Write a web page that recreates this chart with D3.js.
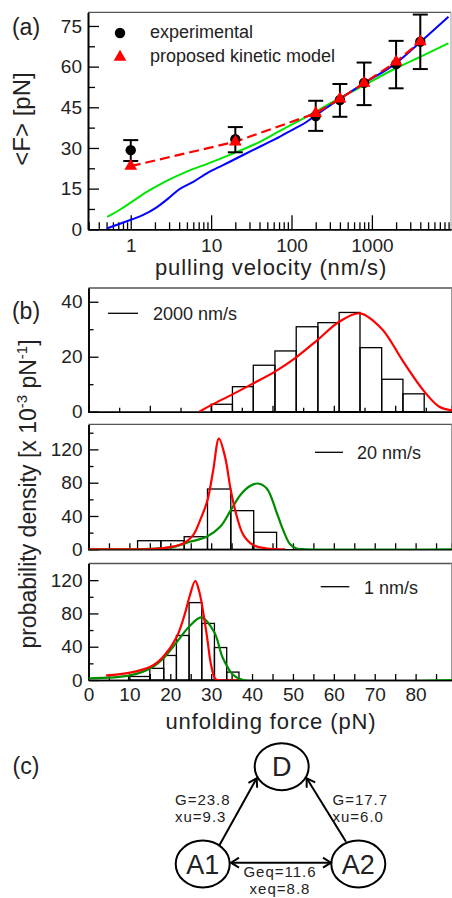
<!DOCTYPE html>
<html><head><meta charset="utf-8">
<script src="https://cdn.jsdelivr.net/npm/d3@7"></script>
<style>
html,body{margin:0;padding:0;background:#fff;}
svg{display:block;}
text{font-family:"Liberation Sans",Arial,Helvetica,sans-serif;fill:#222;}
</style></head><body>
<svg id="chart" width="452" height="898"></svg>
<script>
// ---------- Panel (a) data ----------
const velocities = [1, 20, 200, 400, 800, 2000, 4000];
const expForce   = [29.2, 33.2, 41.8, 47.7, 54.0, 60.9, 69.2];
const expErrLow  = [25.2, 28.4, 36.3, 41.5, 45.8, 52.0, 59.1];
const expErrHigh = [32.9, 37.7, 47.4, 53.6, 61.5, 69.5, 79.2];
const modelForce = [23.3, 32.3, 42.8, 48.1, 53.9, 61.8, 69.2];
const blueV = [0.51, 1.04, 1.43, 2.1, 2.94, 3.9, 6.0, 9.25, 12.9, 20.8, 33.5, 49, 71.9, 101, 150, 201, 391, 805, 1980, 4050, 8970];
const blueF = [0.37, 3.7, 5.3, 8.1, 11.4, 14.5, 17.5, 21.0, 23.1, 26.2, 29.3, 31.7, 34.2, 36.6, 39.4, 42.1, 47.9, 53.9, 61.2, 69.2, 78.4];
const greenV = [0.51, 0.74, 1.04, 1.58, 2.8, 4.97, 9.25, 18.9, 36.9, 68.6, 201, 391, 805, 1980, 4050, 8970];
const greenF = [4.6, 7.3, 10.2, 13.8, 17.9, 21.3, 24.3, 28.0, 31.7, 36.0, 43.4, 48.3, 53.2, 59.4, 63.7, 68.6];
const aYTicks = [0, 15, 30, 45, 60, 75];
const aXTicks = [1, 10, 100, 1000];

// ---------- Panel (b) data ----------
const edges2000 = [30, 35.2, 40.3, 45.6, 50.8, 56.1, 61.3, 66.4, 71.7, 76.9, 82.1];
const hist2000  = [2.7, 9.1, 16.9, 22.1, 30.9, 32.4, 36.1, 23.3, 11.8, 6.5];
const red2000F = [27.1, 30, 35.2, 40.3, 45.6, 50.8, 56.1, 61.3, 66.4, 71.7, 76.9, 82.1, 85.8, 88.9];
const red2000P = [0, 2.4, 6.3, 10.3, 14.6, 19.8, 26.2, 32.7, 35.8, 30.2, 18.4, 7.4, 1.8, 0.5];

const edges20 = [12.0, 17.7, 23.4, 29.1, 34.8, 40.4, 46.0];
const hist20  = [10.3, 10.3, 15.1, 72.4, 46.4, 20.4];
const red20F = [0, 15, 19.1, 23.2, 25.6, 27.3, 29.1, 30.5, 31.9, 33.4, 34.8, 36.3, 37.9, 40.3, 43.6, 48.1];
const red20P = [0, 0.3, 2, 7, 17, 35, 59, 95, 133, 111, 71, 39, 17, 5, 1, 0];
const green20F = [0, 15, 20.8, 24.8, 28.9, 32.2, 34.8, 37.1, 39.5, 41.4, 43.6, 46.1, 47.7, 49.3, 50.9, 53.3, 88.9];
const green20P = [0, 0.5, 3, 9, 15, 27, 47, 65, 76, 79, 73, 43, 22, 6, 1, 0, 0];

const edges1 = [9.8, 15.0, 18.4, 21.5, 24.6, 27.7, 30.8, 33.8, 36.8];
const hist1  = [4.2, 14, 29.5, 53.5, 93, 68, 39, 9.5];
const red1F = [4.3, 10.2, 15.5, 18.5, 21.6, 23.6, 24.7, 26.1, 27.1, 28.1, 29.1, 29.9, 30.9, 31.5, 36.4];
const red1P = [5.5, 8.8, 16.8, 29.2, 52, 80, 100, 119, 106, 80, 48, 20, 2, 0, 0];
const green1F = [0, 10.2, 15.5, 18.5, 21.6, 24.7, 27.6, 30.8, 32.8, 35.4, 37.8, 88.9];
const green1P = [2, 5.5, 15, 27, 45.6, 64.5, 75.2, 57, 27, 6, 0, 0];

const bXTickLabels = [0, 10, 20, 30, 40, 50, 60, 70, 80];
const legendLabels = ["2000 nm/s", "20 nm/s", "1 nm/s"];

// ---------- Panel (c) labels ----------
const nodeLabels = ["D", "A1", "A2"];
const edgeLabelsA1D = ["G=23.8", "xu=9.3"];
const edgeLabelsA2D = ["G=17.7", "xu=6.0"];
const edgeLabelsEq  = ["Geq=11.6", "xeq=8.8"];

const svg = d3.select("#chart");
const FRAME = "#555";

// ================= Panel (a) =================
const xA = d3.scaleLog().domain([0.294, 9640]).range([88, 451]);
const yA = d3.scaleLinear().domain([0, 80]).range([229.3, 12.4]);
const gA = svg.append("g");

gA.append("line").attr("x1", 88).attr("x2", 451).attr("y1", 12.4).attr("y2", 12.4).attr("stroke", FRAME).attr("stroke-width", 1.3);
gA.append("line").attr("x1", 451).attr("x2", 451).attr("y1", 12.4).attr("y2", 229.3).attr("stroke", "#999").attr("stroke-width", 1);

const minorA = [];
[0.1, 1, 10, 100, 1000].forEach(d => { for (let k = 2; k <= 9; k++) { const v = d * k; if (v > 0.294 && v < 9640) minorA.push(v); } });

gA.append("g").attr("transform", "translate(0,229.3)")
  .call(d3.axisBottom(xA).tickValues(aXTicks).tickSize(-14).tickSizeOuter(0).tickPadding(9).tickFormat(d3.format("d")));
gA.append("g").attr("transform", "translate(0,229.3)")
  .call(d3.axisBottom(xA).tickValues(minorA).tickSize(-7).tickSizeOuter(0).tickFormat(""));
gA.append("g").attr("transform", "translate(88,0)")
  .call(d3.axisLeft(yA).tickValues(aYTicks).tickSize(-11).tickSizeOuter(0).tickPadding(6));
gA.append("g").attr("transform", "translate(88,0)")
  .call(d3.axisLeft(yA).tickValues([7.5, 22.5, 37.5, 52.5, 67.5]).tickSize(-7).tickSizeOuter(0).tickFormat(""));

const lineA = d3.line().x(d => xA(d[0])).y(d => yA(d[1])).curve(d3.curveMonotoneX);
gA.append("path").datum(greenV.map((v, i) => [v, greenF[i]])).attr("d", lineA)
  .attr("fill", "none").attr("stroke", "#00e600").attr("stroke-width", 2);
gA.append("path").datum(blueV.map((v, i) => [v, blueF[i]])).attr("d", lineA)
  .attr("fill", "none").attr("stroke", "#0000ff").attr("stroke-width", 2);
gA.append("path").datum(velocities.map((v, i) => [v, modelForce[i]]))
  .attr("d", d3.line().x(d => xA(d[0])).y(d => yA(d[1])))
  .attr("fill", "none").attr("stroke", "#ff0000").attr("stroke-width", 2.2).attr("stroke-dasharray", "10,5");

const eb = gA.append("g").attr("stroke", "#000").attr("stroke-width", 2);
velocities.forEach((v, i) => {
  const x = xA(v);
  eb.append("line").attr("x1", x).attr("x2", x).attr("y1", yA(expErrLow[i])).attr("y2", yA(expErrHigh[i]));
  eb.append("line").attr("x1", x - 7.5).attr("x2", x + 7.5).attr("y1", yA(expErrLow[i])).attr("y2", yA(expErrLow[i]));
  eb.append("line").attr("x1", x - 7.5).attr("x2", x + 7.5).attr("y1", yA(expErrHigh[i])).attr("y2", yA(expErrHigh[i]));
});
gA.selectAll("circle.exp").data(velocities).enter().append("circle")
  .attr("cx", d => xA(d)).attr("cy", (d, i) => yA(expForce[i])).attr("r", 5.2).attr("fill", "#000");
const tri = d3.symbol().type(d3.symbolTriangle).size(70);
gA.selectAll("path.model").data(velocities).enter().append("path")
  .attr("d", tri).attr("transform", (d, i) => `translate(${xA(d)},${yA(modelForce[i])})`).attr("fill", "#ff0000");

gA.append("circle").attr("cx", 120).attr("cy", 33).attr("r", 5.2).attr("fill", "#000");
gA.append("text").attr("x", 150).attr("y", 37.5).attr("font-size", 18).text("experimental");
gA.append("path").attr("d", tri).attr("transform", "translate(120,57)").attr("fill", "#ff0000");
gA.append("text").attr("x", 150).attr("y", 62).attr("font-size", 18).text("proposed kinetic model");

gA.append("text").attr("x", 26).attr("y", 35).attr("text-anchor", "middle").attr("font-size", 23).text("(a)");
gA.append("text").attr("transform", "translate(30,119) rotate(-90)").attr("text-anchor", "middle").attr("font-size", 24).text("<F> [pN]");
gA.append("text").attr("x", 271).attr("y", 275).attr("text-anchor", "middle").attr("font-size", 22)
  .attr("letter-spacing", 0.9).text("pulling velocity (nm/s)");

// ================= Panel (b) =================
const xB = d3.scaleLinear().domain([0, 88.9]).range([88.5, 452]);
const subs = [
  { top: 288, bottom: 411.7, max: 45, edges: edges2000, hist: hist2000, red: [red2000F, red2000P], green: null,
    major: [0, 20, 40], minor: [10, 30], xMajor: [15, 30, 45, 60, 75], xMinor: [7.5, 22.5, 37.5, 52.5, 67.5, 82.5],
    labels: false, leg: { x1: 108, x2: 138, y: 313.3, tx: 153, ty: 320, t: legendLabels[0] } },
  { top: 424.4, bottom: 549.3, max: 150, edges: edges20, hist: hist20, red: [red20F, red20P], green: [green20F, green20P],
    major: [0, 40, 80, 120], minor: [20, 60, 100, 140], xMajor: d3.range(5, 89, 5), xMinor: [],
    labels: false, leg: { x1: 315, x2: 343, y: 452.3, tx: 357, ty: 459, t: legendLabels[1] } },
  { top: 563.5, bottom: 680, max: 140, edges: edges1, hist: hist1, red: [red1F, red1P], green: [green1F, green1P],
    major: [0, 40, 80, 120], minor: [20, 60, 100], xMajor: d3.range(5, 89, 5), xMinor: [],
    labels: true, leg: { x1: 320.7, x2: 349.3, y: 586.7, tx: 364, ty: 593.5, t: legendLabels[2] } }
];

subs.forEach((s, si) => {
  const y = d3.scaleLinear().domain([0, s.max]).range([s.bottom, s.top]);
  const g = svg.append("g");
  const clipId = "clip" + si;
  g.append("clipPath").attr("id", clipId).append("rect")
    .attr("x", 88.5).attr("y", s.top).attr("width", 452 - 88.5).attr("height", s.bottom - s.top);
  g.append("line").attr("x1", 88.5).attr("x2", 452).attr("y1", s.top).attr("y2", s.top).attr("stroke", FRAME).attr("stroke-width", 1.3);
  g.append("line").attr("x1", 451.5).attr("x2", 451.5).attr("y1", s.top).attr("y2", s.bottom).attr("stroke", "#999").attr("stroke-width", 1);
  g.append("g").selectAll("rect").data(s.hist).enter().append("rect")
    .attr("x", (d, i) => xB(s.edges[i])).attr("width", (d, i) => xB(s.edges[i + 1]) - xB(s.edges[i]))
    .attr("y", d => y(d)).attr("height", d => s.bottom - y(d))
    .attr("fill", "none").attr("stroke", "#000").attr("stroke-width", 1.3);
  const xAx = d3.axisBottom(xB).tickSizeOuter(0);
  if (s.labels) {
    g.append("g").attr("transform", `translate(0,${s.bottom})`)
      .call(xAx.tickValues(bXTickLabels).tickSize(0).tickPadding(8).tickFormat(d3.format("d")));
    g.append("g").attr("transform", `translate(0,${s.bottom})`)
      .call(d3.axisBottom(xB).tickValues(s.xMajor).tickSize(-6).tickSizeOuter(0).tickFormat(""));
  } else {
    g.append("g").attr("transform", `translate(0,${s.bottom})`)
      .call(xAx.tickValues(s.xMajor).tickSize(-6).tickFormat(""));
  }
  if (s.xMinor.length) {
    g.append("g").attr("transform", `translate(0,${s.bottom})`)
      .call(d3.axisBottom(xB).tickValues(s.xMinor).tickSize(-4).tickSizeOuter(0).tickFormat(""));
  }
  g.append("g").attr("transform", "translate(88.5,0)")
    .call(d3.axisLeft(y).tickValues(s.major).tickSize(-10).tickSizeOuter(0).tickPadding(6));
  g.append("g").attr("transform", "translate(88.5,0)")
    .call(d3.axisLeft(y).tickValues(s.minor).tickSize(-5).tickSizeOuter(0).tickFormat(""));
  const ln = d3.line().x(d => xB(d[0])).y(d => y(d[1])).curve(d3.curveCatmullRom.alpha(0.5));
  const cg = g.append("g").attr("clip-path", `url(#${clipId})`);
  if (s.green) {
    cg.append("path").datum(s.green[0].map((f, i) => [f, s.green[1][i]])).attr("d", ln)
      .attr("fill", "none").attr("stroke", "#008c00").attr("stroke-width", 2.2);
  }
  cg.append("path").datum(s.red[0].map((f, i) => [f, s.red[1][i]])).attr("d", ln)
    .attr("fill", "none").attr("stroke", "#ff0000").attr("stroke-width", 2.2);
  g.append("line").attr("x1", s.leg.x1).attr("x2", s.leg.x2).attr("y1", s.leg.y).attr("y2", s.leg.y)
    .attr("stroke", "#000").attr("stroke-width", 1.3);
  g.append("text").attr("x", s.leg.tx).attr("y", s.leg.ty).attr("font-size", 18).text(s.leg.t);
});

svg.append("text").attr("x", 26).attr("y", 319).attr("text-anchor", "middle").attr("font-size", 23).text("(b)");
const yl = svg.append("text").attr("transform", "translate(36,494) rotate(-90)").attr("text-anchor", "middle").attr("font-size", 23);
yl.append("tspan").text("probability density [x 10");
yl.append("tspan").attr("dy", -9).attr("font-size", 15).text("-3");
yl.append("tspan").attr("dy", 9).text("  pN");
yl.append("tspan").attr("dy", -9).attr("font-size", 15).text("-1");
yl.append("tspan").attr("dy", 9).text("]");
svg.append("text").attr("x", 271).attr("y", 729).attr("text-anchor", "middle").attr("font-size", 22)
  .attr("letter-spacing", 0.9).text("unfolding force (pN)");

// ================= Panel (c) =================
const gC = svg.append("g");
gC.append("text").attr("x", 26).attr("y", 774).attr("text-anchor", "middle").attr("font-size", 23).text("(c)");
const defs = svg.append("defs");
defs.append("marker").attr("id", "arr").attr("viewBox", "-10 -6 12 12").attr("refX", 0).attr("refY", 0)
  .attr("markerWidth", 12).attr("markerHeight", 12).attr("markerUnits", "userSpaceOnUse").attr("orient", "auto-start-reverse")
  .append("path").attr("d", "M-8,-5 L0,0 L-8,5").attr("fill", "none").attr("stroke", "#000").attr("stroke-width", 2);

const nodePos = [[281.7, 766.7], [202.7, 864], [358.3, 864]];
gC.selectAll("ellipse").data(nodeLabels).enter().append("ellipse")
  .attr("cx", (d, i) => nodePos[i][0]).attr("cy", (d, i) => nodePos[i][1])
  .attr("rx", 27).attr("ry", 23.5).attr("fill", "#fff").attr("stroke", "#000").attr("stroke-width", 2);
gC.selectAll("text.node").data(nodeLabels).enter().append("text")
  .attr("x", (d, i) => nodePos[i][0]).attr("y", (d, i) => nodePos[i][1] + 9.5)
  .attr("text-anchor", "middle").attr("font-size", 27).text(d => d);

gC.append("line").attr("x1", 219).attr("y1", 846).attr("x2", 256.7).attr("y2", 778.3)
  .attr("stroke", "#000").attr("stroke-width", 2).attr("marker-end", "url(#arr)");
gC.append("line").attr("x1", 346).attr("y1", 841.7).attr("x2", 306.7).attr("y2", 778.3)
  .attr("stroke", "#000").attr("stroke-width", 2).attr("marker-end", "url(#arr)");
gC.append("line").attr("x1", 231).attr("y1", 862.7).attr("x2", 331).attr("y2", 862.7)
  .attr("stroke", "#000").attr("stroke-width", 2).attr("marker-end", "url(#arr)").attr("marker-start", "url(#arr)");

gC.selectAll("text.l1").data(edgeLabelsA1D).enter().append("text")
  .attr("x", 175).attr("y", (d, i) => 805 + i * 17).attr("font-size", 15).attr("letter-spacing", 1).text(d => d);
gC.selectAll("text.l2").data(edgeLabelsA2D).enter().append("text")
  .attr("x", 332.5).attr("y", (d, i) => 805 + i * 17).attr("font-size", 15).attr("letter-spacing", 1).text(d => d);
gC.selectAll("text.l3").data(edgeLabelsEq).enter().append("text")
  .attr("x", 280).attr("y", (d, i) => 877 + i * 17).attr("text-anchor", "middle").attr("font-size", 15).attr("letter-spacing", 1).text(d => d);

svg.selectAll(".domain").attr("stroke", "#000").attr("stroke-width", 1.6);
svg.selectAll(".tick line").attr("stroke", "#000").attr("stroke-width", 1.3);
svg.selectAll(".tick text").attr("font-size", 19).attr("fill", "#222").attr("font-family", '"Liberation Sans",Arial,sans-serif');
</script>
</body></html>
